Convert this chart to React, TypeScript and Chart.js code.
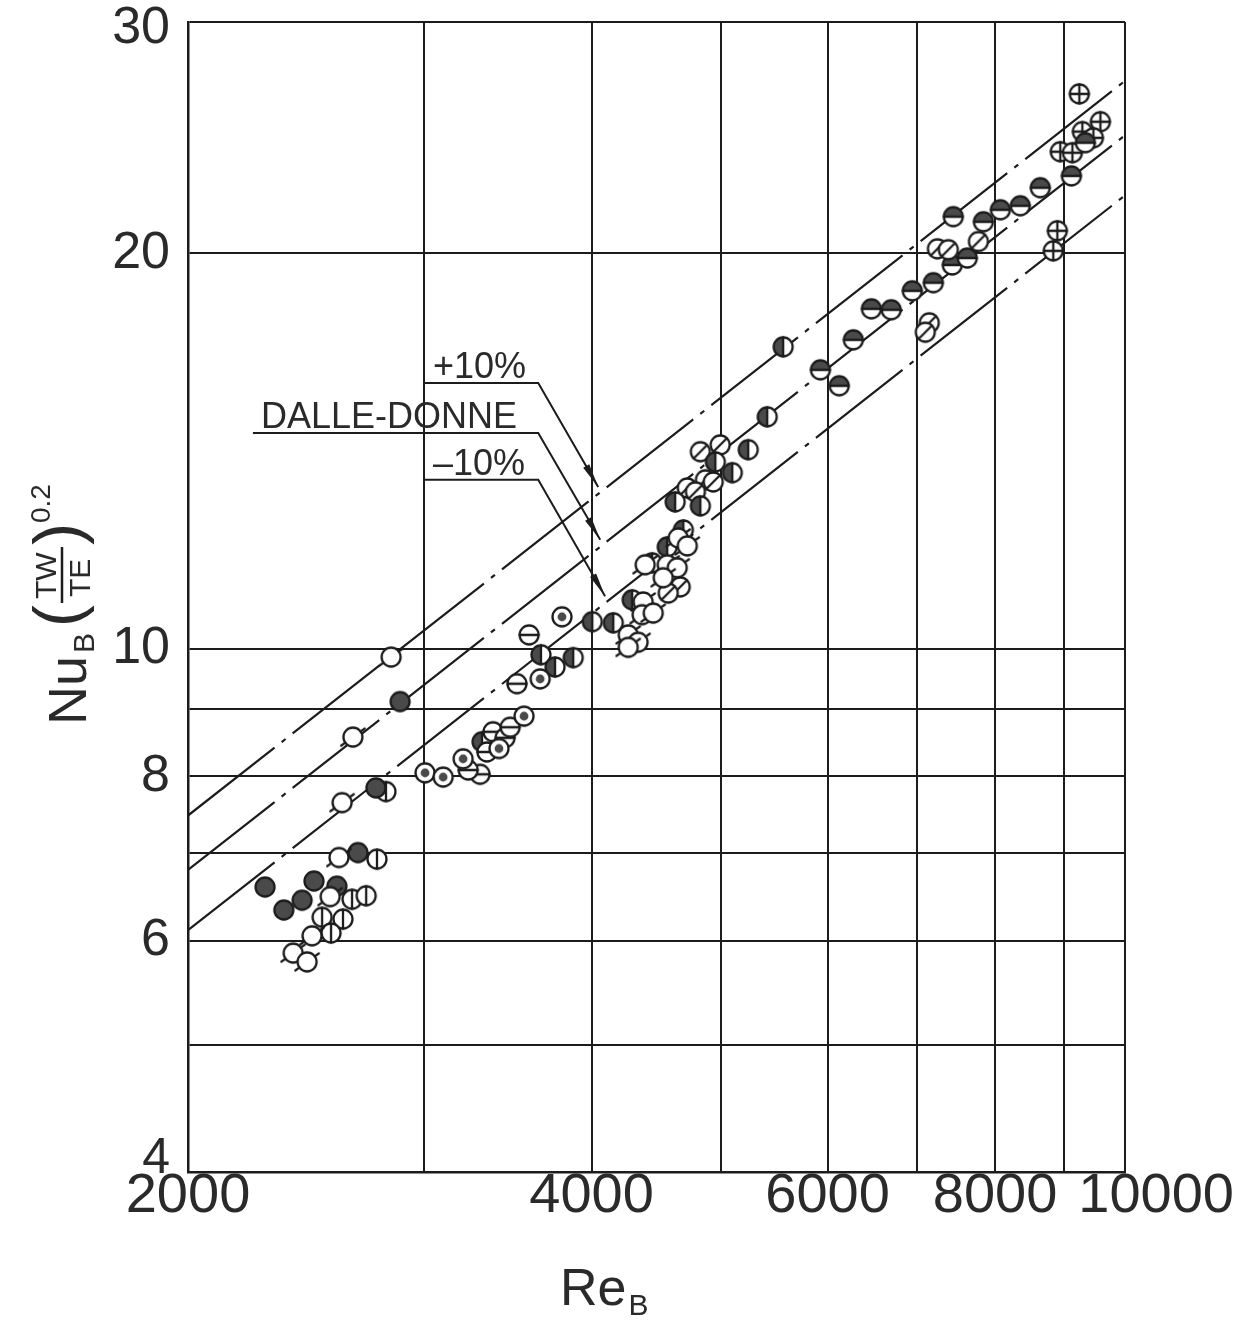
import React, { useEffect, useRef } from "react";
import { Chart, registerables } from "chart.js";

Chart.register(...registerables);

// ---------- axes ----------
const xTickValues = [2000, 3000, 4000, 5000, 6000, 7000, 8000, 9000, 10000];
const xTickLabels = ["2000", "", "4000", "", "6000", "", "8000", "", "10000"];
const yTickValues = [4, 5, 6, 7, 8, 9, 10, 20, 30];
const yTickLabels = ["4", "", "6", "", "8", "", "10", "20", "30"];

// ---------- correlation lines (Nu = C * Re^0.8) ----------
const lineRe = [2000, 10000];
const dalleDonneNu = [6.79, 24.6];
const plus10Nu = [7.47, 27.06];
const minus10Nu = [6.11, 22.14];

// ---------- measured points, by marker type ----------
const openRe = [2553, 2592, 2475, 2396, 2454, 2835, 2655, 2606, 4642, 4715, 4386, 4555, 4634, 4524, 4371, 4363, 4447, 4260, 4333, 4260];
const openNu = [6.48, 6.94, 6.05, 5.87, 5.78, 9.86, 8.57, 7.64, 12.15, 11.98, 11.59, 11.59, 11.53, 11.33, 10.86, 10.62, 10.65, 10.25, 10.12, 10.03];

const filledRe = [2283, 2358, 2433, 2483, 2583, 2678, 2762, 2879];
const filledNu = [6.59, 6.33, 6.44, 6.66, 6.6, 7.0, 7.84, 9.12];

const vbarRe = [2767, 2651, 2716, 2518, 2610, 2557, 2810];
const vbarNu = [6.92, 6.45, 6.49, 6.25, 6.23, 6.08, 7.79];

const dotRe = [3005, 3100, 3208, 3412, 3562, 3662, 3802];
const dotNu = [8.05, 7.99, 8.25, 8.4, 8.89, 9.49, 10.58];

const hbarRe = [3303, 3236, 3377, 3342, 3448, 3478, 3519, 3593];
const hbarNu = [8.03, 8.09, 8.65, 8.35, 8.56, 8.72, 9.41, 10.25];

const halfVRe = [3314, 3667, 3757, 3876, 4005, 4152, 4948, 5235, 5094, 4618, 4822, 4683, 4555, 4439, 4289, 5409, 5559];
const halfVNu = [8.5, 9.9, 9.69, 9.85, 10.49, 10.47, 13.88, 14.18, 13.62, 12.94, 12.85, 12.32, 11.96, 11.63, 10.9, 15.02, 16.98];

const diagRe = [4822, 4989, 4864, 4930, 4715, 4781, 4658, 4563, 7145, 7096, 7245, 7383, 7774];
const diagNu = [14.13, 14.3, 13.45, 13.4, 13.26, 13.17, 11.15, 11.03, 17.71, 17.42, 20.16, 20.13, 20.42];

const halfHRe = [5926, 6271, 6121, 6469, 6693, 6939, 7195, 7433, 7627, 7446, 7841, 8073, 8354, 8646, 9121, 9342];
const halfHNu = [16.31, 17.19, 15.86, 18.15, 18.12, 18.73, 19.0, 19.6, 19.84, 21.33, 21.14, 21.59, 21.74, 22.44, 22.91, 24.28];

const crossRe = [9246, 9586, 9294, 9472, 8948, 9136, 8903, 8841];
const crossNu = [26.45, 25.19, 24.76, 24.49, 23.9, 23.86, 20.81, 20.09];

// ---------- annotation labels ----------
const annotationLabels = ["+10%", "DALLE-DONNE", "–10%"];
const annotationUnderlineStartRe = [3005, 2236, 3005];
const annotationUnderlineNu = [15.94, 14.6, 13.45];
const annotationElbowRe = 3650;
const annotationTipRe = [4046, 4060, 4094];

const INK = "#1c1c1c";
const TEXT = "#2a2a2a";
const FONT = '"Liberation Sans", Arial, sans-serif';

function makeMarker(kind: string): HTMLCanvasElement {
  const s = 34;
  const c = document.createElement("canvas");
  c.width = s;
  c.height = s;
  const ctx = c.getContext("2d")!;
  const cx = s / 2;
  const cy = s / 2;
  const r = 9.5;
  const dark = "#4a4a4a";
  ctx.lineCap = "round";
  ctx.beginPath();
  ctx.arc(cx, cy, r, 0, Math.PI * 2);
  ctx.fillStyle = "#fff";
  ctx.fill();
  ctx.strokeStyle = INK;
  ctx.lineWidth = 2.3;
  ctx.fillStyle = dark;
  if (kind === "filled") {
    ctx.beginPath();
    ctx.arc(cx, cy, r, 0, Math.PI * 2);
    ctx.fill();
  } else if (kind === "halfV") {
    ctx.beginPath();
    ctx.moveTo(cx, cy - r);
    ctx.arc(cx, cy, r, -Math.PI / 2, Math.PI / 2, true);
    ctx.closePath();
    ctx.fill();
    ctx.beginPath();
    ctx.moveTo(cx, cy - r);
    ctx.lineTo(cx, cy + r);
    ctx.stroke();
  } else if (kind === "halfH") {
    ctx.beginPath();
    ctx.moveTo(cx + r, cy);
    ctx.arc(cx, cy, r, 0, Math.PI, true);
    ctx.closePath();
    ctx.fill();
    ctx.beginPath();
    ctx.moveTo(cx - r, cy);
    ctx.lineTo(cx + r, cy);
    ctx.stroke();
  } else if (kind === "vbar") {
    ctx.beginPath();
    ctx.moveTo(cx, cy - r);
    ctx.lineTo(cx, cy + r);
    ctx.stroke();
  } else if (kind === "hbar") {
    ctx.beginPath();
    ctx.moveTo(cx - r, cy);
    ctx.lineTo(cx + r, cy);
    ctx.stroke();
  } else if (kind === "diag") {
    const d = r * Math.SQRT1_2;
    ctx.beginPath();
    ctx.moveTo(cx - d, cy + d);
    ctx.lineTo(cx + d, cy - d);
    ctx.stroke();
  } else if (kind === "cross") {
    ctx.beginPath();
    ctx.moveTo(cx, cy - r);
    ctx.lineTo(cx, cy + r);
    ctx.moveTo(cx - r, cy);
    ctx.lineTo(cx + r, cy);
    ctx.stroke();
  } else if (kind === "dot") {
    ctx.beginPath();
    ctx.arc(cx, cy, 4.4, 0, Math.PI * 2);
    ctx.fill();
  } else if (kind === "open") {
    const a1 = -Math.PI / 5;
    const a2 = a1 + Math.PI;
    ctx.beginPath();
    ctx.moveTo(cx + Math.cos(a1) * r, cy + Math.sin(a1) * r);
    ctx.lineTo(cx + Math.cos(a1) * (r + 5), cy + Math.sin(a1) * (r + 5));
    ctx.moveTo(cx + Math.cos(a2) * r, cy + Math.sin(a2) * r);
    ctx.lineTo(cx + Math.cos(a2) * (r + 5), cy + Math.sin(a2) * (r + 5));
    ctx.stroke();
  }
  ctx.beginPath();
  ctx.arc(cx, cy, r, 0, Math.PI * 2);
  ctx.stroke();
  return c;
}

function pts(xs: number[], ys: number[]) {
  return xs.map((x, i) => ({ x, y: ys[i] }));
}

const annotPlugin = {
  id: "annotAndTitles",
  afterDraw(chart: any) {
    const { ctx, chartArea } = chart;
    const xs = chart.scales.x;
    const ys = chart.scales.y;
    ctx.save();
    ctx.fillStyle = TEXT;
    ctx.strokeStyle = INK;

    // ---- annotations ----
    const lines = [plus10Nu, dalleDonneNu, minus10Nu];
    ctx.lineWidth = 2;
    ctx.font = `36px ${FONT}`;
    ctx.textAlign = "left";
    ctx.textBaseline = "alphabetic";
    annotationLabels.forEach((label, i) => {
      const yU = ys.getPixelForValue(annotationUnderlineNu[i]);
      const x0 = xs.getPixelForValue(annotationUnderlineStartRe[i]);
      const xe = xs.getPixelForValue(annotationElbowRe);
      const xt = xs.getPixelForValue(annotationTipRe[i]);
      const lx0 = xs.getPixelForValue(lineRe[0]);
      const lx1 = xs.getPixelForValue(lineRe[1]);
      const ly0 = ys.getPixelForValue(lines[i][0]);
      const ly1 = ys.getPixelForValue(lines[i][1]);
      const yt = ly0 + ((ly1 - ly0) * (xt - lx0)) / (lx1 - lx0) - 7;
      ctx.beginPath();
      ctx.moveTo(x0, yU);
      ctx.lineTo(xe, yU);
      ctx.lineTo(xt, yt);
      ctx.stroke();
      const ang = Math.atan2(yt - yU, xt - xe);
      const len = 24;
      const hw = 3.5;
      const bx = xt - Math.cos(ang) * len;
      const by = yt - Math.sin(ang) * len;
      ctx.beginPath();
      ctx.moveTo(xt, yt);
      ctx.lineTo(bx - Math.sin(ang) * hw, by + Math.cos(ang) * hw);
      ctx.lineTo(bx + Math.sin(ang) * hw, by - Math.cos(ang) * hw);
      ctx.closePath();
      ctx.fillStyle = INK;
      ctx.fill();
      ctx.fillStyle = TEXT;
      ctx.fillText(label, x0 + 8, yU - 5);
    });

    // ---- x axis title: Re_B ----
    ctx.font = `52px ${FONT}`;
    const tx = chartArea.left + 372;
    const ty = chartArea.bottom + 133;
    ctx.fillText("Re", tx, ty);
    const w = ctx.measureText("Re").width;
    ctx.font = `30px ${FONT}`;
    ctx.fillText("B", tx + w + 2, ty + 10);

    // ---- y axis title: Nu_B (T_W / T_E)^0.2 ----
    ctx.save();
    ctx.translate(chartArea.left - 102, chartArea.top + 703);
    ctx.rotate(-Math.PI / 2);
    ctx.font = `54px ${FONT}`;
    ctx.fillText("Nu", 0, 0);
    ctx.font = `30px ${FONT}`;
    ctx.fillText("B", 72, 8);
    ctx.font = `66px ${FONT}`;
    ctx.fillText("(", 98, -6);
    ctx.font = `30px ${FONT}`;
    ctx.fillText("TW", 126, -30);
    ctx.fillText("TE", 128, 4);
    ctx.lineWidth = 2.5;
    ctx.beginPath();
    ctx.moveTo(122, -24);
    ctx.lineTo(178, -24);
    ctx.stroke();
    ctx.font = `66px ${FONT}`;
    ctx.fillText(")", 180, -6);
    ctx.font = `28px ${FONT}`;
    ctx.fillText("0.2", 202, -36);
    ctx.restore();

    ctx.restore();
  },
};

export default function App() {
  const ref = useRef<HTMLCanvasElement | null>(null);

  useEffect(() => {
    if (!ref.current) return;
    const markerSet: [string, number[], number[]][] = [
      ["open", openRe, openNu],
      ["filled", filledRe, filledNu],
      ["vbar", vbarRe, vbarNu],
      ["dot", dotRe, dotNu],
      ["hbar", hbarRe, hbarNu],
      ["halfV", halfVRe, halfVNu],
      ["diag", diagRe, diagNu],
      ["halfH", halfHRe, halfHNu],
      ["cross", crossRe, crossNu],
    ];
    const pointDatasets = markerSet.map(([kind, xs, ys]) => ({
      label: kind,
      data: pts(xs, ys),
      pointStyle: makeMarker(kind),
      pointRadius: 10,
      showLine: false,
      order: 0,
    }));
    const lineDataset = (label: string, ys: number[]) => ({
      label,
      data: pts(lineRe, ys),
      showLine: true,
      pointRadius: 0,
      borderColor: INK,
      borderWidth: 2.2,
      borderDash: [110, 9, 5, 9],
      fill: false,
      order: 1,
    });

    const lastX = xTickValues[xTickValues.length - 1];
    const firstY = yTickValues[0];
    const lastY = yTickValues[yTickValues.length - 1];

    const chart = new Chart(ref.current, {
      type: "scatter",
      data: {
        datasets: [
          ...pointDatasets,
          lineDataset("+10%", plus10Nu),
          lineDataset("DALLE-DONNE", dalleDonneNu),
          lineDataset("-10%", minus10Nu),
        ] as any,
      },
      options: {
        animation: false,
        responsive: false,
        maintainAspectRatio: false,
        layout: { padding: { left: 0, top: 22, right: 119, bottom: 0 } },
        plugins: {
          legend: { display: false },
          tooltip: { enabled: false },
        },
        scales: {
          x: {
            type: "logarithmic",
            min: 2000,
            max: 10000,
            afterBuildTicks: (s: any) => {
              s.ticks = xTickValues.map((v) => ({ value: v }));
            },
            afterFit: (s: any) => {
              s.height = 148;
              s.paddingLeft = 0;
              s.paddingRight = 0;
            },
            ticks: {
              autoSkip: false,
              maxRotation: 0,
              minRotation: 0,
              padding: 2,
              color: TEXT,
              font: { family: FONT, size: 56, lineHeight: 0.8 },
              callback: (v: any) => {
                const lbl = xTickLabels[xTickValues.indexOf(Number(v))] ?? "";
                // the last label sits to the right of its grid line in the original
                return Number(v) === lastX ? "    " + lbl : lbl;
              },
            },
            grid: { color: INK, lineWidth: 2, drawTicks: false },
            border: { display: true, color: INK, width: 2.5 },
          },
          y: {
            type: "logarithmic",
            min: 4,
            max: 30,
            afterBuildTicks: (s: any) => {
              s.ticks = yTickValues.map((v) => ({ value: v }));
            },
            afterFit: (s: any) => {
              s.width = 188;
              s.paddingTop = 0;
              s.paddingBottom = 0;
            },
            ticks: {
              autoSkip: false,
              padding: 18,
              color: TEXT,
              font: (c: any) => {
                const v = c.tick ? c.tick.value : 0;
                if (v === firstY) return { family: FONT, size: 50, lineHeight: 0.5 };
                if (v === lastY) return { family: FONT, size: 52, lineHeight: 0.25 };
                return { family: FONT, size: 52 };
              },
              callback: (v: any) => {
                const lbl = yTickLabels[yTickValues.indexOf(Number(v))] ?? "";
                if (Number(v) === firstY) return [lbl, ""];
                if (Number(v) === lastY) return ["", lbl];
                return lbl;
              },
            },
            grid: { color: INK, lineWidth: 2, drawTicks: false },
            border: { display: true, color: INK, width: 2.5 },
          },
        },
      } as any,
      plugins: [annotPlugin as any],
    });
    return () => chart.destroy();
  }, []);

  return (
    <div style={{ position: "fixed", left: 0, top: 0, width: 1244, height: 1320, background: "#fff" }}>
      <canvas ref={ref} width={1244} height={1320} style={{ display: "block" }} />
    </div>
  );
}
